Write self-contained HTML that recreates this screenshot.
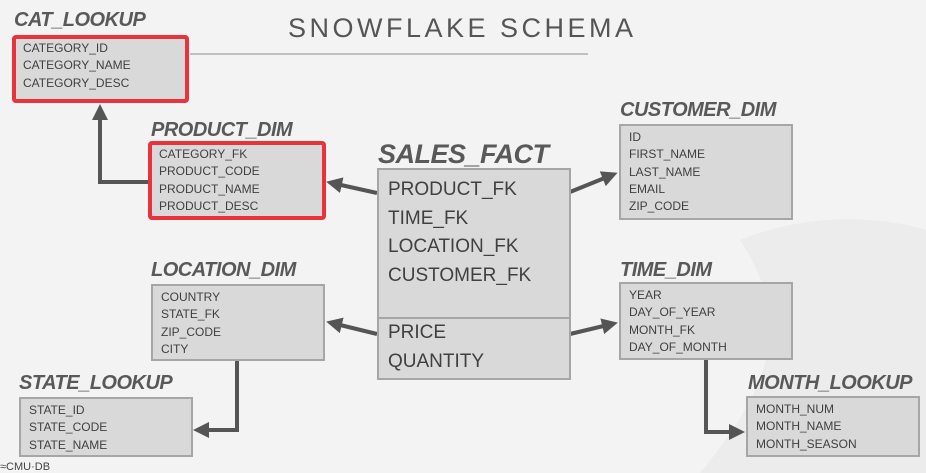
<!DOCTYPE html>
<html><head><meta charset="utf-8"><style>
body{margin:0;width:926px;height:473px;background:#f3f3f3;position:relative;overflow:hidden;font-family:"Liberation Sans",sans-serif;}
.t{position:absolute;font-weight:bold;font-style:italic;color:#595959;font-size:20px;letter-spacing:-0.5px;line-height:20px;}
.b{position:absolute;background:#d9d9d9;border:2px solid #a6a6a6;box-sizing:border-box;color:#404040;font-size:12px;line-height:17.3px;padding:3px 0 0 8px;}
.r{border:4px solid #e8323c;border-radius:4px;padding:1px 0 0 7px;}
.f{position:absolute;left:388px;font-size:19px;color:#404040;line-height:20px;}
</style></head><body>
<svg width="926" height="473" style="position:absolute;left:0;top:0">
<path d="M740 240 C 840 200, 926 230, 926 230 L926 473 L700 473 C 760 400, 800 330, 740 240Z" fill="#ececec"/>
<line x1="190" y1="54" x2="588" y2="54" stroke="#b0b0b0" stroke-width="1.5"/>
<defs><marker id="a" markerWidth="4" markerHeight="4" refX="2.5" refY="2" orient="auto" markerUnits="strokeWidth"><path d="M0,0 L4,2 L0,4Z" fill="#555"/></marker></defs>
<g stroke="#555" stroke-width="4" fill="none" marker-end="url(#a)">
<polyline points="148,182 100,182 100,110"/>
<line x1="377" y1="193" x2="332" y2="183"/>
<line x1="570" y1="192" x2="612" y2="175"/>
<line x1="377" y1="334" x2="332" y2="323"/>
<line x1="570" y1="334" x2="612" y2="324"/>
<polyline points="237,360 237,430 199,430"/>
<polyline points="706,359 706,432 739,432"/>
</g>
</svg>
<div style="position:absolute;left:288px;top:13px;font-size:27px;letter-spacing:3.5px;color:#555;">SNOWFLAKE SCHEMA</div>
<div class="t" style="left:14px;top:10px">CAT_LOOKUP</div>
<div class="b r" style="left:12px;top:35px;width:177px;height:68px">CATEGORY_ID<br>CATEGORY_NAME<br>CATEGORY_DESC</div>
<div class="t" style="left:151px;top:120px">PRODUCT_DIM</div>
<div class="b r" style="left:148px;top:141px;width:178px;height:79px">CATEGORY_FK<br>PRODUCT_CODE<br>PRODUCT_NAME<br>PRODUCT_DESC</div>
<div class="t" style="left:378px;top:141px;font-size:27px;line-height:27px">SALES_FACT</div>
<div class="b" style="left:377px;top:168px;width:194px;height:212px;padding:0"></div>
<div style="position:absolute;left:379px;top:317px;width:190px;height:2px;background:#a6a6a6"></div>
<div class="f" style="top:180px">PRODUCT_FK</div>
<div class="f" style="top:209px">TIME_FK</div>
<div class="f" style="top:237px">LOCATION_FK</div>
<div class="f" style="top:266px">CUSTOMER_FK</div>
<div class="f" style="top:323px">PRICE</div>
<div class="f" style="top:352px">QUANTITY</div>
<div class="t" style="left:620px;top:100px">CUSTOMER_DIM</div>
<div class="b" style="left:619px;top:124px;width:174px;height:96px">ID<br>FIRST_NAME<br>LAST_NAME<br>EMAIL<br>ZIP_CODE</div>
<div class="t" style="left:151px;top:260px">LOCATION_DIM</div>
<div class="b" style="left:151px;top:284px;width:174px;height:77px">COUNTRY<br>STATE_FK<br>ZIP_CODE<br>CITY</div>
<div class="t" style="left:620px;top:260px">TIME_DIM</div>
<div class="b" style="left:619px;top:282px;width:174px;height:78px">YEAR<br>DAY_OF_YEAR<br>MONTH_FK<br>DAY_OF_MONTH</div>
<div class="t" style="left:19px;top:373px">STATE_LOOKUP</div>
<div class="b" style="left:19px;top:397px;width:174px;height:60px">STATE_ID<br>STATE_CODE<br>STATE_NAME</div>
<div class="t" style="left:748px;top:373px">MONTH_LOOKUP</div>
<div class="b" style="left:746px;top:396px;width:174px;height:61px">MONTH_NUM<br>MONTH_NAME<br>MONTH_SEASON</div>
<div style="position:absolute;left:0;top:461px;font-size:11px;color:#444;line-height:12px">&#8776;CMU·DB</div>
</body></html>
